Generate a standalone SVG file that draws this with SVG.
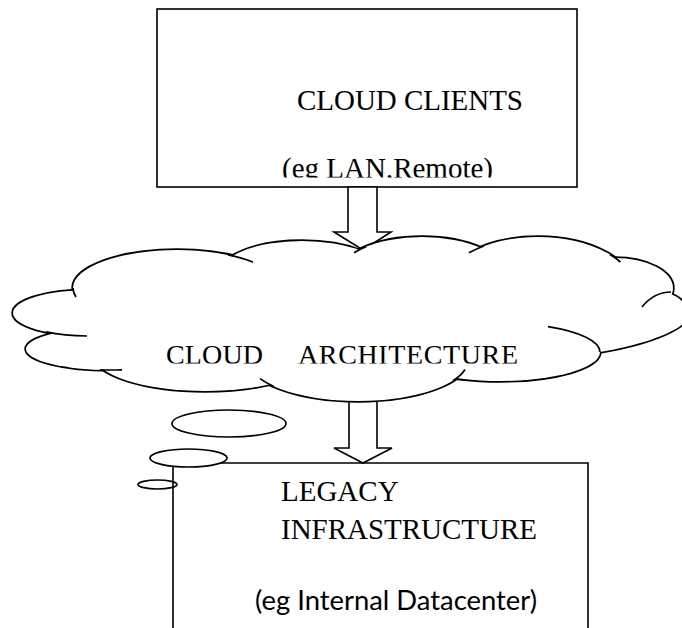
<svg xmlns="http://www.w3.org/2000/svg" xmlns:xlink="http://www.w3.org/1999/xlink" width="682" height="628" viewBox="0 0 682 628">
<style>
.box{fill:#fff;stroke:#000;stroke-width:1.6}
.arrow{fill:#fff;stroke:#000;stroke-width:1.6;stroke-linejoin:miter}
.tail{fill:none;stroke:#000;stroke-width:1.7}
.serif{font-family:"Liberation Serif","Times New Roman",serif;font-size:29px;fill:#000}
.sans{font-family:Lato,"Noto Sans","Liberation Sans",sans-serif;font-size:26px;fill:#000}
.bubble{stroke:#000;stroke-width:1.7}
</style>
<defs>
<g id="lobes">
<ellipse cx="177" cy="288" rx="104" ry="38"/>
<ellipse cx="90" cy="313" rx="77" ry="23"/>
<ellipse cx="110" cy="349" rx="84" ry="21"/>
<ellipse cx="205" cy="355" rx="111" ry="36"/>
<ellipse cx="358" cy="360" rx="110" ry="41"/>
<ellipse cx="500" cy="352" rx="100" ry="29"/>
<path d="M596,352 L596,322 L642,307 C655,290 675,288 687,308 C700,322 660,342 600,352 Z"/>
<ellipse cx="615" cy="288" rx="58" ry="30"/>
<ellipse cx="538" cy="290" rx="97" ry="53"/>
<ellipse cx="422" cy="275" rx="84" ry="38"/>
<ellipse cx="302" cy="275" rx="84" ry="34"/>
</g>
<clipPath id="clipTop"><rect x="150" y="0" width="440" height="177.5"/></clipPath>
<clipPath id="clipCloud"><rect x="100" y="320" width="480" height="43.5"/></clipPath>
</defs>

<g id="cloud-clients">
<rect class="box" x="157" y="9" width="420" height="178"/>
<text class="serif" x="297" y="110" textLength="226">CLOUD CLIENTS</text>
<text class="serif" x="282" y="177.5" textLength="211" clip-path="url(#clipTop)">(eg LAN,Remote)</text>
</g>

<g id="legacy-infrastructure">
<path class="box" d="M173,640 V463 H588 V640" fill="none"/>
<text class="serif" x="281" y="501">LEGACY</text>
<text class="serif" x="281" y="539" textLength="256">INFRASTRUCTURE</text>
<text class="sans" x="255" y="610" textLength="282" lengthAdjust="spacingAndGlyphs">(eg Internal Datacenter)</text>
</g>

<g id="connectors">
<polygon class="arrow" points="348,187 377,187 377,232 391,232 363,250 334,232 348,232"/>
<polygon class="arrow" points="349,396 377,396 377,448 392,448 363,463 334,448 349,448"/>
</g>

<g id="cloud-architecture">
<use xlink:href="#lobes" href="#lobes" fill="none" stroke="#000" stroke-width="3.4"/>
<use xlink:href="#lobes" href="#lobes" fill="#fff" stroke="none"/>
<polygon fill="#fff" points="80,292 232,262 360,254 480,253 612,263 662,296 598,348 458,374 268,380 104,365 56,335"/>
<g class="tail">
<path d="M73,288 A104,38 0 0 0 76,297"/>
<path d="M46,331.9 A77,23 0 0 0 87,336"/>
<path d="M100,369.8 A84,21 0 0 0 122,369.8"/>
<path d="M260,378.6 A110,41 0 0 0 274,386.5"/>
<path d="M453,380.7 A110,41 0 0 0 465,369.5"/>
<path d="M548,326.6 A100,29 0 0 1 600,352"/>
<path d="M642,307 C650,297 660,292 671,292"/>
<path d="M610,254.5 A97,53 0 0 1 620.4,262"/>
<path d="M469,252.7 A97,53 0 0 1 484,246"/>
<path d="M354,252.7 A84,38 0 0 1 366,246.7"/>
<path d="M228,254.9 A104,38 0 0 1 253,262.1"/>
</g>
<text class="serif" style="font-size:28px" y="363.5" clip-path="url(#clipCloud)"><tspan x="166" textLength="97">CLOUD</tspan><tspan x="298" textLength="220">ARCHITECTURE</tspan></text>
</g>

<g id="thought-bubbles">
<ellipse class="bubble" fill="#fff" cx="229" cy="423.5" rx="57" ry="13.5"/>
<ellipse class="bubble" fill="#fff" cx="188.5" cy="458" rx="38.5" ry="9"/>
<ellipse class="bubble" fill="none" cx="157.5" cy="484.5" rx="19.5" ry="4.5"/>
</g>
</svg>
